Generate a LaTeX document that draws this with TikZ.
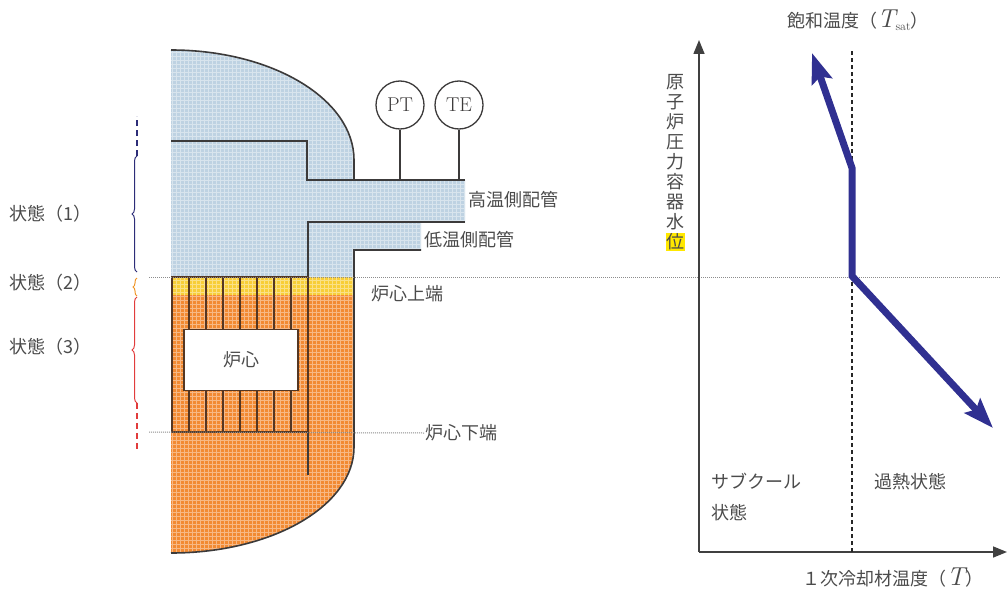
\documentclass[tikz,border=0pt]{standalone}
\usepackage{fontspec}
\newfontfamily\jp{Noto Sans CJK JP}
\usepackage{tikz}
\usetikzlibrary{arrows.meta}
\usetikzlibrary{decorations.pathreplacing}
\usetikzlibrary{calc}
\definecolor{vesselblue}{RGB}{190,210,226}
\definecolor{coreyellow}{RGB}{248,206,55}
\definecolor{coreorange}{RGB}{242,138,50}
\definecolor{wallgray}{RGB}{60,58,58}
\definecolor{rodbrown}{RGB}{85,55,35}
\definecolor{txtgray}{RGB}{75,75,75}
\definecolor{flowblue}{RGB}{48,48,145}
\definecolor{bracenavy}{RGB}{45,45,120}
\definecolor{braceorange}{RGB}{240,150,40}
\definecolor{bracered}{RGB}{225,60,60}
\definecolor{marker}{RGB}{255,232,0}
\newcommand{\tvar}[1]{{\rmfamily\itshape\fontsize{26}{26}\selectfont #1}}
\tikzset{j/.style={font=\jp\fontsize{18}{20}\selectfont,text=txtgray,inner sep=1pt}}
\tikzset{w/.style={wallgray,line width=1.6pt}}
\tikzset{rod/.style={rodbrown,line width=1.3pt}}
\tikzset{meter/.style={draw=wallgray,line width=1.3pt,circle,minimum size=48pt,inner sep=0pt,text=wallgray,font=\fontsize{20}{20}\selectfont}}
\tikzset{lev/.style={black!45,dash pattern=on 1pt off 1pt,line width=1pt}}
\tikzset{mesh/.style={white,opacity=0.4,line width=0.6pt,step=4pt}}
\tikzset{dashend/.style={line width=1.3pt,dash pattern=on 6pt off 4pt}}
\tikzset{axis/.style={black!75,line width=1.5pt,-{Triangle[length=14pt,width=11pt]}}}
\tikzset{flow/.style={flowblue,line width=7pt,{Stealth[length=30pt,width=21pt,inset=5pt]}-{Stealth[length=30pt,width=21pt,inset=5pt]}}}

\begin{document}
\begin{tikzpicture}[x=1pt,y=-1pt]
          \useasboundingbox (0,0) rectangle (1008,594);
          % vessel water
          \begin{scope}
            \clip (171,50) .. controls (272,50) and (354,99) .. (354,160) -- (354,180) -- (465,180) -- (465,222) -- (421,222) -- (421,250) -- (354,250) -- (354,277) -- (171,277) -- cycle;
            \fill[vesselblue] (160,40) rectangle (470,280);
            \draw[mesh] (160,40) grid (470,280);
          \end{scope}
          \begin{scope}
            \clip (171,277) rectangle (354,295);
            \fill[coreyellow] (160,270) rectangle (360,300);
            \draw[mesh] (160,270) grid (360,300);
          \end{scope}
          \begin{scope}
            \clip (171,295) -- (354,295) -- (354,447) .. controls (354,506) and (272,553) .. (171,553) -- cycle;
            \fill[coreorange] (160,290) rectangle (360,560);
            \draw[mesh] (160,290) grid (360,560);
          \end{scope}
          % walls and piping
          \draw[w] (171,50) .. controls (272,50) and (354,99) .. (354,160) -- (354,180);
          \draw[w] (171,141) -- (307,141) -- (307,180) -- (465,180);
          \draw[w] (465,222) -- (308,222) -- (308,475);
          \draw[w] (421,250) -- (354,250) -- (354,447) .. controls (354,506) and (272,553) .. (171,553);
          % core
          \draw[rod] (172,277) rectangle (308,432);
          \foreach \k in {1,...,7}
            \draw[rod] ({172+17*\k},277) -- ({172+17*\k},432);
          \node[j,draw=rodbrown,fill=white,line width=1.3pt,minimum width=114pt,minimum height=61pt] (core) at (241,360) {炉心};
          % instruments
          \node[meter] (PT) at (400,105) {PT};
          \node[meter] (TE) at (459,105) {TE};
          \coordinate (ptfoot) at (400,180);
          \coordinate (tefoot) at (459,180);
          \draw[w,line width=1.3pt] (PT) -- (ptfoot);
          \draw[w,line width=1.3pt] (TE) -- (tefoot);
          \node[j,anchor=west] (hot) at (467,200) {高温側配管};
          \node[j,anchor=west] (cold) at (423,240) {低温側配管};
          \node[j,anchor=west] (coretop) at (370,294) {炉心上端};
          \node[j,anchor=west] (corebot) at (424,433) {炉心下端};
          % levels
          \coordinate (lvl) at (149,277);
          \coordinate (lvlend) at (1000,277);
          \draw[lev] (lvl) -- (lvlend);
          \coordinate (botl) at (149,432);
          \draw[lev] (botl) -- (corebot.west);
          % states
          \coordinate (b1a) at (137,272); \coordinate (b1b) at (137,156); \coordinate (b1c) at (137,116);
          \draw[bracenavy,line width=1pt,decorate,decoration={brace,amplitude=5pt}] (b1a) -- (b1b);
          \draw[bracenavy,dashend] (b1b) -- (b1c);
          \coordinate (b2a) at (137,296); \coordinate (b2b) at (137,278);
          \draw[braceorange,line width=1pt,decorate,decoration={brace,amplitude=4pt}] (b2a) -- (b2b);
          \coordinate (b3a) at (137,403); \coordinate (b3b) at (137,297); \coordinate (b3c) at (137,452);
          \draw[bracered,line width=1pt,decorate,decoration={brace,amplitude=5pt}] (b3a) -- (b3b);
          \draw[bracered,dashend] (b3a) -- (b3c);
          \node[j,anchor=west] (s1) at (8,214) {状態（1）};
          \node[j,anchor=west] (s2) at (8,283) {状態（2）};
          \node[j,anchor=west] (s3) at (8,347) {状態（3）};
          % level vs temperature
          \coordinate (O) at (699,552);
          \coordinate (ytop) at (699,40);
          \coordinate (xend) at (1007,552);
          \draw[axis] (O) -- (ytop);
          \draw[axis] (O) -- (xend);
          \coordinate (satb) at (852,552);
          \coordinate (satt) at (852,50);
          \draw[black!85,line width=1.1pt,dash pattern=on 4pt off 3pt] (satb) -- (satt);
          \coordinate (up) at (812,53);
          \coordinate (bend) at (852,168);
          \coordinate (knee) at (852,276);
          \coordinate (down) at (993,428);
          \draw[flow] (up) -- (bend) -- (knee) -- (down);
          \node[j] (tsat) at (858,20) {飽和温度（\tvar{T}\raisebox{-3pt}{\rmfamily\fontsize{12}{12}\selectfont sat}）};
          \foreach \c [count=\i] in {原,子,炉,圧,力,容,器,水}
            \node[j] (yl\i) at (675,{62+20*\i}) {\c};
          \node[j,fill=marker,inner sep=0.5pt] (yl9) at (675,242) {位};
          \node[j,anchor=west,align=left,font=\jp\fontsize{18}{31}\selectfont] (sub) at (710,497) {サブクール\\状態};
          \node[j,anchor=west] (sup) at (873,482) {過熱状態};
          \node[j] (tlab) at (893,578) {１次冷却材温度（\tvar{T}）};
        \end{tikzpicture}
\end{document}
